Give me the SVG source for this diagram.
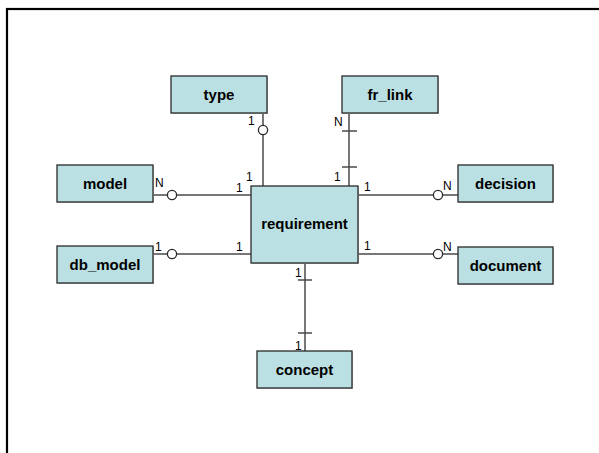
<svg xmlns="http://www.w3.org/2000/svg" width="599" height="453" viewBox="0 0 599 453">
<style>
.box{fill:#BBE0E3;stroke:#2a2a2a;stroke-width:1.3}
.shadow{fill:#c8c8c8}
.lbl{font-family:"Liberation Sans",Arial,sans-serif;font-size:15px;font-weight:bold;fill:#000;text-anchor:middle}
.card{font-family:"Liberation Sans",Arial,sans-serif;font-size:12px;fill:#000}
.ln{stroke:#4a4a4a;stroke-width:1.5;fill:none}
.o{fill:#fff;stroke:#2a2a2a;stroke-width:1.3}
</style>
<rect x="0" y="0" width="599" height="453" fill="#fff"/>
<rect x="7" y="9" width="620" height="470" fill="none" stroke="#000" stroke-width="2.2"/>
<g id="connectors">
<line class="ln" x1="263" y1="113" x2="263" y2="186"/>
<circle class="o" cx="263" cy="130" r="4.6"/>
<line class="ln" x1="349" y1="113" x2="349" y2="186"/>
<line class="ln" x1="342" y1="131" x2="357" y2="131"/>
<line class="ln" x1="342" y1="167" x2="357" y2="167"/>
<line class="ln" x1="153" y1="195" x2="251" y2="195"/>
<circle class="o" cx="172" cy="195" r="4.6"/>
<line class="ln" x1="153" y1="254" x2="251" y2="254" stroke="#222"/>
<circle class="o" cx="172" cy="254" r="4.6"/>
<line class="ln" x1="358" y1="195" x2="458" y2="195"/>
<circle class="o" cx="438" cy="195" r="4.6"/>
<line class="ln" x1="358" y1="254" x2="458" y2="254"/>
<circle class="o" cx="438" cy="254" r="4.6"/>
<line class="ln" x1="305" y1="263" x2="305" y2="351"/>
<line class="ln" x1="298" y1="280" x2="312" y2="280"/>
<line class="ln" x1="298" y1="333" x2="312" y2="333"/>
<text class="card" x="248" y="125">1</text>
<text class="card" x="246" y="181">1</text>
<text class="card" x="334" y="126">N</text>
<text class="card" x="334" y="181">1</text>
<text class="card" x="155" y="187">N</text>
<text class="card" x="236" y="192">1</text>
<text class="card" x="155" y="251">1</text>
<text class="card" x="236" y="251">1</text>
<text class="card" x="364" y="191">1</text>
<text class="card" x="443" y="190">N</text>
<text class="card" x="364" y="250">1</text>
<text class="card" x="443" y="251">N</text>
<text class="card" x="295" y="277">1</text>
<text class="card" x="295" y="350">1</text>
</g>
<g id="type">
<rect class="shadow" x="172" y="77" width="96" height="37"/>
<rect class="box" x="171" y="76" width="96" height="37"/>
<text class="lbl" x="219" y="100">type</text>
</g>
<g id="fr_link">
<rect class="shadow" x="343" y="77" width="96" height="37"/>
<rect class="box" x="342" y="76" width="96" height="37"/>
<text class="lbl" x="390" y="100">fr_link</text>
</g>
<g id="model">
<rect class="shadow" x="58" y="166" width="96" height="37"/>
<rect class="box" x="57" y="165" width="96" height="37"/>
<text class="lbl" x="105" y="189">model</text>
</g>
<g id="db_model">
<rect class="shadow" x="58" y="247" width="96" height="37"/>
<rect class="box" x="57" y="246" width="96" height="37"/>
<text class="lbl" x="105" y="270">db_model</text>
</g>
<g id="decision">
<rect class="shadow" x="459" y="166" width="95" height="37"/>
<rect class="box" x="458" y="165" width="95" height="37"/>
<text class="lbl" x="505.5" y="189">decision</text>
</g>
<g id="document">
<rect class="shadow" x="459" y="248" width="95" height="37"/>
<rect class="box" x="458" y="247" width="95" height="37"/>
<text class="lbl" x="505.5" y="271">document</text>
</g>
<g id="requirement">
<rect class="shadow" x="252" y="187" width="107" height="77"/>
<rect class="box" x="251" y="186" width="107" height="77"/>
<text class="lbl" x="304.5" y="229">requirement</text>
</g>
<g id="concept">
<rect class="shadow" x="258" y="352" width="95" height="37"/>
<rect class="box" x="257" y="351" width="95" height="37"/>
<text class="lbl" x="304.5" y="375">concept</text>
</g>
</svg>
